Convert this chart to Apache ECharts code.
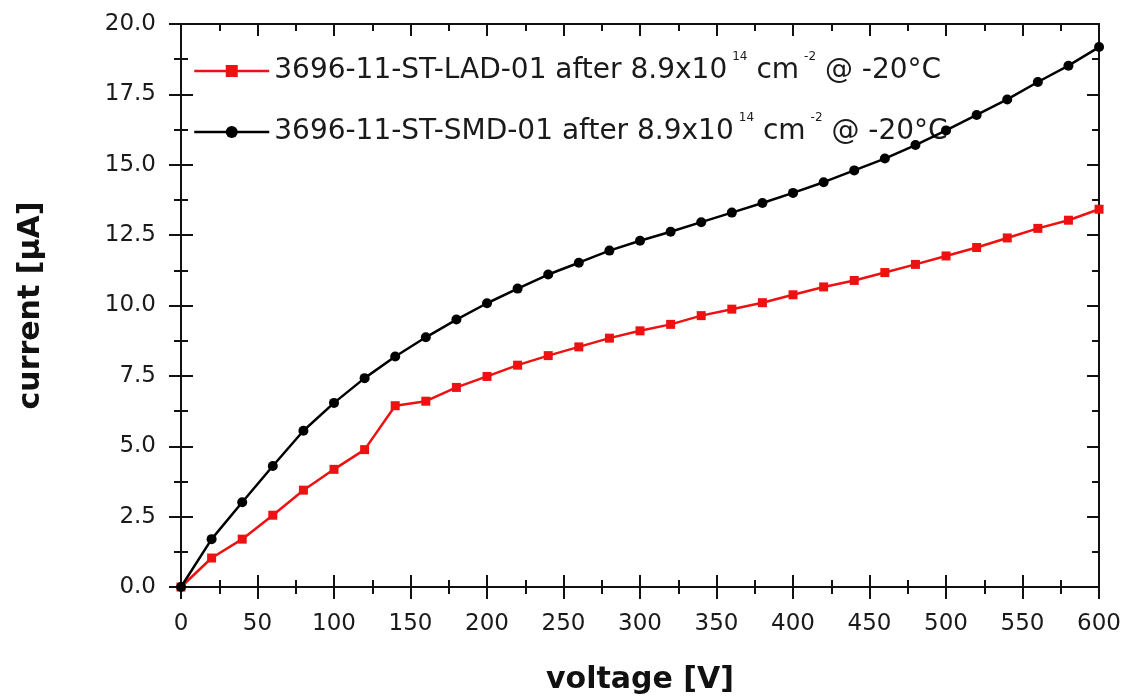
<!DOCTYPE html>
<html>
<head>
<meta charset="utf-8">
<script src="https://cdn.jsdelivr.net/npm/echarts@6/dist/echarts.min.js"></script>
<style>
html,body{margin:0;padding:0;background:#fff;}
#chart{width:1124px;height:700px;}
</style>
</head>
<body>
<div id="chart"></div>
<script>
// ---- data ----
const voltage = [0, 20, 40, 60, 80, 100, 120, 140, 160, 180, 200, 220, 240, 260, 280, 300,
                 320, 340, 360, 380, 400, 420, 440, 460, 480, 500, 520, 540, 560, 580, 600];
const currentLAD = [0, 1.03, 1.70, 2.55, 3.44, 4.18, 4.88, 6.44, 6.60, 7.09, 7.48, 7.88, 8.22, 8.53, 8.84, 9.10,
                    9.33, 9.64, 9.87, 10.10, 10.38, 10.66, 10.89, 11.17, 11.46, 11.76, 12.06, 12.40, 12.74, 13.03, 13.42];
const currentSMD = [0, 1.70, 3.01, 4.30, 5.55, 6.54, 7.42, 8.19, 8.87, 9.50, 10.08, 10.60, 11.10, 11.52, 11.95, 12.30,
                    12.62, 12.96, 13.30, 13.64, 14.00, 14.38, 14.80, 15.22, 15.70, 16.22, 16.77, 17.32, 17.94, 18.52, 19.18];
const seriesNames = ['3696-11-ST-LAD-01', '3696-11-ST-SMD-01'];
const legendSuffix = { main: ' after 8.9x10', exp1: '14', unit: ' cm', exp2: '-2', temp: ' @ -20°C' };
const xTitle = 'voltage [V]';
const yTitle = 'current [µA]';
const xMin = 0, xMax = 600, xStep = 50;
const yMin = 0, yMax = 20, yStep = 2.5;

const FONT = 'DejaVu Sans';
const chart = echarts.init(document.getElementById('chart'), null, { renderer: 'canvas' });

const pair = (xs, ys) => xs.map((x, i) => [x, ys[i]]);

function xAx(pos, inside, showLabel, showLine, extra) {
  return Object.assign({
    type: 'value', position: pos, min: xMin, max: xMax, interval: xStep,
    axisLine: { show: showLine, onZero: false, lineStyle: { color: '#111', width: 2 } },
    axisTick: { show: true, inside: inside, length: 12, lineStyle: { color: '#111', width: 2 } },
    minorTick: { show: true, splitNumber: 2, length: 7, lineStyle: { color: '#111', width: 2 } },
    axisLabel: { show: showLabel, fontFamily: FONT, fontSize: 23, color: '#1a1a1a', margin: 26 },
    splitLine: { show: false }
  }, extra || {});
}
function yAx(pos, inside, showLabel, showLine, extra) {
  return Object.assign({
    type: 'value', position: pos, min: yMin, max: yMax, interval: yStep,
    axisLine: { show: showLine, onZero: false, lineStyle: { color: '#111', width: 2 } },
    axisTick: { show: true, inside: inside, length: 12, lineStyle: { color: '#111', width: 2 } },
    minorTick: { show: true, splitNumber: 2, length: 7, lineStyle: { color: '#111', width: 2 } },
    axisLabel: { show: showLabel, fontFamily: FONT, fontSize: 23, color: '#1a1a1a', margin: 25,
                 formatter: v => v.toFixed(1) },
    splitLine: { show: false }
  }, extra || {});
}

const option = {
  animation: false,
  backgroundColor: '#fff',
  grid: { left: 181, right: 24, top: 24, bottom: 111, containLabel: false },
  legend: {
    orient: 'vertical', left: 188, top: 46, itemGap: 21,
    itemWidth: 75, itemHeight: 15,
    data: seriesNames,
    lineStyle: { width: 2.5 },
    formatter: name => `{a|${name}${legendSuffix.main}}{s|${legendSuffix.exp1}}{a|${legendSuffix.unit}}{s|${legendSuffix.exp2}}{a|${legendSuffix.temp}}`,
    textStyle: {
      fontFamily: FONT, fontSize: 28, color: '#1a1a1a', lineHeight: 40,
      rich: {
        a: { fontFamily: FONT, fontSize: 28, color: '#1a1a1a', lineHeight: 40 },
        s: { fontFamily: FONT, fontSize: 12, color: '#1a1a1a', lineHeight: 11, verticalAlign: 'top', padding: [0, 0, 0, 5] }
      }
    }
  },
  xAxis: [
    xAx('bottom', false, true, true, {
      name: xTitle, nameLocation: 'middle', nameGap: 78,
      nameTextStyle: { fontFamily: FONT, fontWeight: 'bold', fontSize: 30, color: '#111' }
    }),
    xAx('bottom', true, false, false),
    xAx('top', true, false, true)
  ],
  yAxis: [
    yAx('left', false, true, true, {
      name: yTitle, nameLocation: 'middle', nameGap: 135, nameRotate: 90,
      nameTextStyle: { fontFamily: FONT, fontWeight: 'bold', fontSize: 30, color: '#111' }
    }),
    yAx('left', true, false, false),
    yAx('right', true, false, true)
  ],
  series: [
    {
      name: seriesNames[0], type: 'line', xAxisIndex: 0, yAxisIndex: 0,
      data: pair(voltage, currentLAD),
      symbol: 'rect', symbolSize: 9, showSymbol: true,
      lineStyle: { color: '#ee1111', width: 2.5 },
      itemStyle: { color: '#ee1111' },
      z: 3
    },
    {
      name: seriesNames[1], type: 'line', xAxisIndex: 0, yAxisIndex: 0,
      data: pair(voltage, currentSMD),
      symbol: 'circle', symbolSize: 10, showSymbol: true,
      lineStyle: { color: '#000', width: 2.5 },
      itemStyle: { color: '#000' },
      z: 4
    }
  ]
};
chart.setOption(option);
</script>
</body>
</html>
